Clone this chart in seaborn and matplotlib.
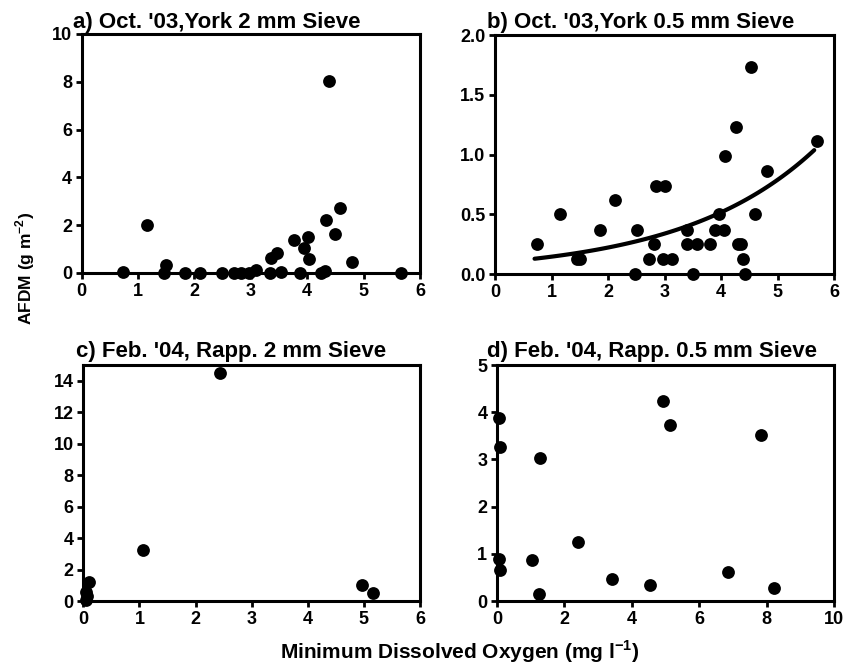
import numpy as np
import pandas as pd
import matplotlib
matplotlib.use("Agg")
import matplotlib.pyplot as plt
import seaborn as sns

# ---- data ----
a_x = [0.73, 1.15, 1.49, 1.46, 1.84, 2.10, 2.48, 2.70, 2.82, 2.97, 3.10, 3.34, 3.35, 3.47,
       3.54, 3.76, 3.87, 3.95, 4.01, 4.04, 4.24, 4.32, 4.34, 4.38, 4.49, 4.58, 4.79, 5.66]
a_y = [0.05, 2.00, 0.33, 0.00, 0.00, 0.00, 0.00, 0.00, 0.00, 0.00, 0.12, 0.00, 0.64, 0.85,
       0.05, 1.40, 0.00, 1.05, 1.50, 0.60, 0.00, 0.10, 2.20, 8.05, 1.65, 2.72, 0.45, 0.00]

b_x = [0.74, 1.15, 1.45, 1.50, 1.85, 2.12, 2.48, 2.51, 2.73, 2.81, 2.85, 3.00, 2.98, 3.13,
       3.39, 3.39, 3.50, 3.58, 3.81, 3.89, 3.97, 4.06, 4.07, 4.26, 4.30, 4.35, 4.39, 4.42,
       4.53, 4.61, 4.81, 5.70]
b_y = [0.25, 0.50, 0.125, 0.125, 0.37, 0.62, 0.00, 0.37, 0.125, 0.25, 0.74, 0.74, 0.125, 0.125,
       0.37, 0.25, 0.00, 0.25, 0.25, 0.37, 0.50, 0.37, 0.985, 1.23, 0.25, 0.25, 0.125, 0.00,
       1.73, 0.50, 0.86, 1.11]
# exponential trend line y = fit_a * exp(fit_b * x)
fit_a = 0.095
fit_b = 0.423
fit_range = [0.70, 5.65]

c_x = [0.10, 0.05, 0.07, 0.05, 1.07, 2.43, 4.96, 5.16]
c_y = [1.20, 0.55, 0.30, 0.05, 3.25, 14.48, 1.02, 0.50]

d_x = [0.06, 0.08, 0.06, 0.10, 1.28, 1.05, 1.26, 2.41, 3.41, 4.54, 4.92, 5.13, 6.84, 7.83, 8.22]
d_y = [3.87, 3.27, 0.88, 0.65, 3.04, 0.86, 0.14, 1.24, 0.46, 0.33, 4.23, 3.73, 0.62, 3.52, 0.28]

titles = ["a) Oct. '03,York 2 mm Sieve", "b) Oct. '03,York 0.5 mm Sieve",
          "c) Feb. '04, Rapp. 2 mm Sieve", "d) Feb. '04, Rapp. 0.5 mm Sieve"]
x_label = "Minimum Dissolved Oxygen (mg l$^{\\mathbf{-1}}$)"
y_label = "AFDM (g m$^{\\mathbf{-2}}$)"

sns.set_theme(style="white")
plt.rcParams['font.family'] = ['Liberation Sans', 'DejaVu Sans']
plt.rcParams['mathtext.fontset'] = 'custom'
plt.rcParams['mathtext.rm'] = 'Liberation Sans:bold'
plt.rcParams['mathtext.bf'] = 'Liberation Sans:bold'
for k in ['text.color', 'axes.labelcolor', 'xtick.color', 'ytick.color', 'axes.edgecolor']:
    plt.rcParams[k] = 'black'

W, H = 857, 665
fig = plt.figure(figsize=(W / 100, H / 100), dpi=100)

def px_axes(l, r, t, b):
    return fig.add_axes([l / W, 1 - b / H, (r - l) / W, (b - t) / H])

ax_a = px_axes(81.7, 420, 34, 273)
ax_b = px_axes(495, 834, 35, 274)
ax_c = px_axes(83.3, 420, 365, 601)
ax_d = px_axes(497, 834, 365, 601)

panels = [
    (ax_a, a_x, a_y, (0, 6), np.arange(0, 7, 1), (0, 10), np.arange(0, 11, 2), "%d"),
    (ax_b, b_x, b_y, (0, 6), np.arange(0, 7, 1), (0, 2), np.arange(0, 2.01, 0.5), "%.1f"),
    (ax_c, c_x, c_y, (0, 6), np.arange(0, 7, 1), (0, 15), np.arange(0, 15, 2), "%d"),
    (ax_d, d_x, d_y, (0, 10), np.arange(0, 11, 2), (0, 5), np.arange(0, 6, 1), "%d"),
]

for ax, xs, ys, xl, xt, yl, yt, fmt in panels:
    df = pd.DataFrame({"x": xs, "y": ys})
    sns.scatterplot(data=df, x="x", y="y", ax=ax, color="black", s=85,
                    edgecolor="black", linewidth=0, clip_on=False, zorder=5)
    ax.set_xlim(*xl)
    ax.set_ylim(*yl)
    ax.set_xticks(xt)
    ax.set_yticks(yt)
    ax.set_xticklabels([str(int(v)) for v in xt])
    ax.set_yticklabels([fmt % v for v in yt])
    ax.set_xlabel("")
    ax.set_ylabel("")
    for s in ax.spines.values():
        s.set_visible(True)
        s.set_color("black")
        s.set_linewidth(2.2)
    ax.tick_params(axis="both", which="both", direction="out", length=4, width=2,
                   color="black", labelcolor="black", labelsize=13, pad=3,
                   bottom=True, left=True)
    for lab in ax.get_xticklabels() + ax.get_yticklabels():
        lab.set_fontweight("bold")

# trend line on panel b
fx = np.linspace(fit_range[0], fit_range[1], 100)
fdf = pd.DataFrame({"x": fx, "y": fit_a * np.exp(fit_b * fx)})
sns.lineplot(data=fdf, x="x", y="y", ax=ax_b, color="black", linewidth=3, zorder=4)
ax_b.set_xlabel("")
ax_b.set_ylabel("")

# titles
title_pos = [(73, 28), (487, 28), (76, 357), (487, 357)]
for (tx, ty), t in zip(title_pos, titles):
    fig.text(tx / W, 1 - ty / H, t, fontsize=16, fontweight="bold", color="black",
             ha="left", va="baseline")

fig.text(460 / W, 1 - 659 / H, x_label, fontsize=15, fontweight="bold", color="black",
         ha="center", va="baseline")
fig.text(25 / W, 1 - 268 / H, y_label, fontsize=12.5, fontweight="bold", color="black",
         ha="center", va="center", rotation=90)

fig.savefig("out.png", dpi=100)
